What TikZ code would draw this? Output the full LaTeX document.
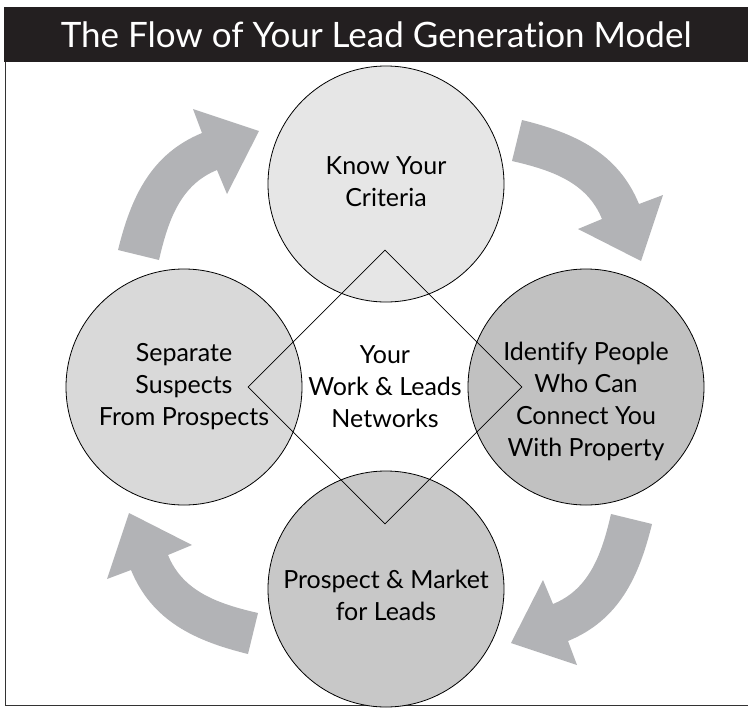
\documentclass[tikz,border=0pt]{standalone}
\usepackage{fontspec}
\setmainfont{Lato}[Ligatures=NoCommon]
\usetikzlibrary{shapes.geometric}

\definecolor{barBlack}{HTML}{231F20}
\definecolor{flowGrey}{HTML}{B2B3B6}
\definecolor{stageKnow}{HTML}{E6E6E6}
\definecolor{stageSeparate}{HTML}{D9D9D9}
\definecolor{stageIdentify}{HTML}{C1C1C1}
\definecolor{stageProspect}{HTML}{C8C8C8}

\tikzset{
  stage/.style={circle, draw=black, line width=0.8pt, minimum size=236pt,
    inner sep=0pt},
  stagetext/.style={align=center, inner sep=0pt,
    font=\fontsize{25}{32}\selectfont},
  network/.style={diamond, draw=black, line width=0.8pt, aspect=1,
    minimum width=274pt, minimum height=274pt, inner sep=0pt,
    align=center, font=\fontsize{25}{32}\selectfont},
  titlebar/.style={fill=barBlack, text=white, anchor=north west,
    minimum width=744pt, minimum height=55pt, inner sep=0pt,
    font=\fontsize{35}{42}\selectfont},
}

\begin{document}
\begin{tikzpicture}[x=1pt, y=-1pt]
\useasboundingbox (0,0) rectangle (748,710);
% Title bar and frame
\node[titlebar] (title) at (4,7) {The Flow of Your Lead Generation Model};
\draw[black!80, line width=0.8pt] (title.south west) ++(1,0) |- (748,705);
% Center of the cycle
\coordinate (hub) at (385,387);
% Block arrows, one shape turned four times
\foreach \turn in {0,-90,-180,-270} {
  \begin{scope}[shift={(hub)}, rotate=\turn]
    \fill[flowGrey] (-267,-137) .. controls (-254,-190) and (-234,-233) .. (-183,-254)
      -- (-192,-278) -- (-126,-256) -- (-158,-193) -- (-168,-217)
      .. controls (-205,-202) and (-217,-166) .. (-226,-127) -- cycle;
  \end{scope}
}
% Stages of the cycle
\node[stage, fill=stageKnow] (know) at (386,184) {};
\node[stage, fill=stageSeparate] (separate) at (184,387) {};
\node[stage, fill=stageIdentify] (identify) at (586,387) {};
\node[stage, fill=stageProspect] (prospect) at (386,589) {};
\node[stagetext] (knowText) at ([yshift=2pt]know) {Know Your\\Criteria};
\node[stagetext] (separateText) at (separate) {Separate\\Suspects\\From Prospects};
\node[stagetext] (identifyText) at ([yshift=-14pt]identify) {Identify People\\Who Can\\Connect You\\With Property};
\node[stagetext] (prospectText) at ([yshift=-6pt]prospect) {Prospect \& Market\\for Leads};
% Networks in the middle
\node[network] (networks) at (hub) {Your\\Work \& Leads\\Networks};
\end{tikzpicture}
\end{document}
